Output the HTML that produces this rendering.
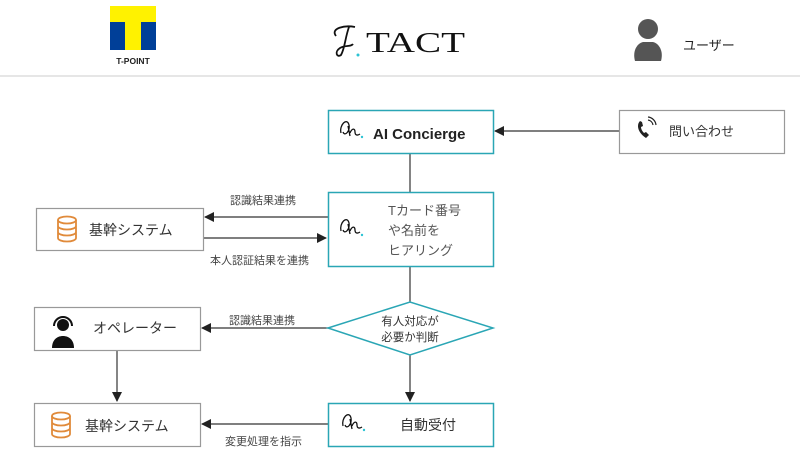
<!DOCTYPE html>
<html><head><meta charset="utf-8"><style>
body{margin:0;width:800px;height:466px;background:#fff;overflow:hidden;font-family:"Liberation Sans","Noto Sans CJK JP",sans-serif;}
svg text{font-family:"Liberation Sans","Noto Sans CJK JP",sans-serif;}
</style></head><body>
<svg width="800" height="466" viewBox="0 0 800 466" xmlns="http://www.w3.org/2000/svg">
<defs>
<marker id="a" markerWidth="10" markerHeight="10" refX="9" refY="5" orient="auto" markerUnits="userSpaceOnUse"><path d="M0,0 L10,5 L0,10 z" fill="#222"/></marker>
<g id="sig"><path d="M0,10 C-2,2 6,-6 8,2 C9,8 4,14 2,9 M7,3 L9,13 M9,10 C11,5 14,5 14,9 C14,12 16,13 19,11" fill="none" stroke="#111" stroke-width="1.3"/><circle cx="21" cy="14" r="1.2" fill="#2cc3d4"/></g>
<g id="db"><ellipse cx="0" cy="0" rx="9" ry="3.5" fill="none" stroke="#e08a3a" stroke-width="1.8"/><path d="M-9,0 v18 a9,3.5 0 0 0 18,0 v-18 M-9,6 a9,3.5 0 0 0 18,0 M-9,12 a9,3.5 0 0 0 18,0" fill="none" stroke="#e08a3a" stroke-width="1.8"/></g>
</defs>
<!-- header -->
<rect x="110" y="6" width="46" height="44" fill="#fff200"/>
<rect x="110" y="22" width="15" height="28" fill="#003f98"/>
<rect x="141" y="22" width="15" height="28" fill="#003f98"/>
<text x="133" y="64" font-size="8.5" font-weight="bold" text-anchor="middle" fill="#222">T-POINT</text>
<path d="M336,36 C330,28 345,25 355,27 M349,27 C345,38 345,48 341,55 C337,58 334,52 340,48 C345,45 351,47 353,44" fill="none" stroke="#111" stroke-width="1.8"/>
<circle cx="358" cy="55" r="1.5" fill="#2cc3d4"/>
<text x="366" y="52" font-size="28" fill="#111" textLength="99" lengthAdjust="spacingAndGlyphs" style="font-family:'Liberation Serif',serif">TACT</text>
<circle cx="648" cy="29" r="10" fill="#555"/>
<path d="M635,61 C632,50 638,43 643,42 L653,42 C658,43 664,50 661,61 z" fill="#555"/>
<text x="683" y="50" font-size="13" fill="#222">ユーザー</text>
<line x1="0" y1="76" x2="800" y2="76" stroke="#ddd" stroke-width="1.5"/>
<!-- connectors -->
<g stroke="#333" stroke-width="1.2" fill="none">
<line x1="619" y1="131" x2="495" y2="131" marker-end="url(#a)"/>
<line x1="410" y1="153" x2="410" y2="192"/>
<line x1="328" y1="217" x2="205" y2="217" marker-end="url(#a)"/>
<line x1="203" y1="238" x2="326" y2="238" marker-end="url(#a)"/>
<line x1="410" y1="266" x2="410" y2="302"/>
<line x1="328" y1="328" x2="202" y2="328" marker-end="url(#a)"/>
<line x1="117" y1="350" x2="117" y2="401" marker-end="url(#a)"/>
<line x1="410" y1="355" x2="410" y2="401" marker-end="url(#a)"/>
<line x1="328" y1="424" x2="202" y2="424" marker-end="url(#a)"/>
</g>
<g font-size="11" fill="#444">
<text x="230" y="204">認識結果連携</text>
<text x="210" y="264">本人認証結果を連携</text>
<text x="229" y="324">認識結果連携</text>
<text x="225" y="445">変更処理を指示</text>
</g>
<!-- boxes -->
<rect x="328.5" y="110.5" width="165" height="43" fill="#fff" stroke="#2aa6b5" stroke-width="1.5"/>
<use href="#sig" x="341" y="123"/>
<text x="373" y="139" font-size="15" font-weight="bold" fill="#222">AI Concierge</text>
<rect x="619.5" y="110.5" width="165" height="43" fill="#fff" stroke="#999" stroke-width="1.2"/>
<path d="M640,121 c-4,4 -2,12 6,17 l3,-3 -3,-3 -2,1 c-2,-2 -3,-4 -3,-6 l2,-1 -1,-4 z" fill="#222"/>
<path d="M648,120 a6,6 0 0 1 5,5 M648,117 a9,9 0 0 1 8,8" stroke="#222" stroke-width="1.2" fill="none"/>
<text x="669" y="136" font-size="13" fill="#333">問い合わせ</text>
<rect x="328.5" y="192.5" width="165" height="74" fill="#fff" stroke="#2aa6b5" stroke-width="1.5"/>
<use href="#sig" x="341" y="221"/>
<g font-size="13" fill="#555"><text x="388" y="215">Tカード番号</text><text x="388" y="235">や名前を</text><text x="388" y="255">ヒアリング</text></g>
<rect x="36.5" y="208.5" width="167" height="42" fill="#fff" stroke="#999" stroke-width="1.2"/>
<use href="#db" x="67" y="220"/>
<text x="89" y="235" font-size="14" fill="#333">基幹システム</text>
<polygon points="328,328 410,302 493,328 410,355" fill="#fff" stroke="#2aa6b5" stroke-width="1.5"/>
<text x="410" y="325" font-size="11.5" fill="#333" text-anchor="middle">有人対応が</text>
<text x="410" y="341" font-size="11.5" fill="#333" text-anchor="middle">必要か判断</text>
<rect x="34.5" y="307.5" width="166" height="43" fill="#fff" stroke="#999" stroke-width="1.2"/>
<circle cx="63" cy="325" r="6" fill="#111"/>
<path d="M54,326 a9,9 0 0 1 18,0" stroke="#111" stroke-width="2" fill="none"/>
<path d="M52,348 c0,-8 5,-12 11,-12 c6,0 11,4 11,12 z" fill="#111"/>
<text x="93" y="333" font-size="14" fill="#333">オペレーター</text>
<rect x="34.5" y="403.5" width="166" height="43" fill="#fff" stroke="#999" stroke-width="1.2"/>
<use href="#db" x="61" y="416"/>
<text x="85" y="431" font-size="14" fill="#333">基幹システム</text>
<rect x="328.5" y="403.5" width="165" height="43" fill="#fff" stroke="#2aa6b5" stroke-width="1.5"/>
<use href="#sig" x="343" y="416"/>
<text x="400" y="430" font-size="14" fill="#333">自動受付</text>
</svg>
</body></html>
